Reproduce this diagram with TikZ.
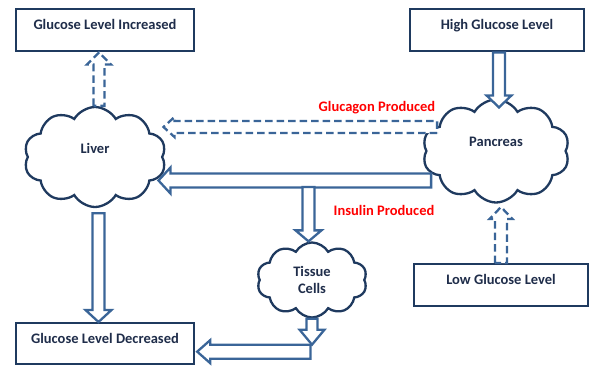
\documentclass[tikz,border=0pt]{standalone}
\usepackage{fontspec}
\setmainfont{Carlito}
\usepackage{tikz}
\usetikzlibrary{calc}
\usetikzlibrary{shapes.symbols}

\definecolor{navy}{HTML}{1F3A5F}
\definecolor{steel}{HTML}{3A6598}
\definecolor{ink}{HTML}{1F2D4A}

\tikzset{
  hollow/.style n args={3}{draw=steel, fill=white, line width=2.3pt, line join=miter,
    to path={
      ($(\tikztotarget)!#3!(\tikztostart)$) coordinate (hb)
      ($(\tikztostart)!#1!90:(\tikztotarget)$)
      -- ($(hb)!#1!90:(\tikztotarget)$)
      -- ($(hb)!#2!90:(\tikztotarget)$)
      -- (\tikztotarget)
      -- ($(hb)!#2!-90:(\tikztotarget)$)
      -- ($(hb)!#1!-90:(\tikztotarget)$)
      -- ($(\tikztostart)!#1!-90:(\tikztotarget)$)
      -- cycle}},
  dashhollow/.style n args={3}{hollow={#1}{#2}{#3}, dash pattern=on 7.5pt off 4pt}
}

\begin{document}
\begin{tikzpicture}[x=1pt,y=-1pt,
  box/.style={draw=navy, line width=2.4pt, fill=white, inner sep=0pt,
    minimum width=178pt, text height=20pt, text depth=22pt, text=ink,
    font=\bfseries\fontsize{14.5}{17}\selectfont},
  puff/.style={cloud, cloud puffs=10, cloud puff arc=120, draw=navy,
    line width=2.3pt, fill=white, inner sep=0pt, text=ink,
    font=\bfseries\fontsize{14.5}{17}\selectfont},
  redlabel/.style={text=red, inner sep=0pt, font=\bfseries\fontsize{14.5}{17}\selectfont}]
\useasboundingbox (0,0) rectangle (592,367);

% boxes
\node[box, anchor=north] (inc) at (105,8) {Glucose Level Increased};
\node[box, anchor=north, minimum width=174pt] (high) at (497,8) {High Glucose Level};
\node[box, anchor=north, minimum width=174pt] (low) at (501,263) {Low Glucose Level};
\node[box, anchor=north, text depth=21pt] (dec) at (105,322) {Glucose Level Decreased};

% clouds
\node[puff, minimum width=142pt, minimum height=100pt, text depth=18pt] (liv) at (95,157) {Liver};
\node[puff, minimum width=147pt, minimum height=103pt, text depth=18pt] (pan) at (496,151) {Pancreas};
\node[puff, minimum width=110pt, minimum height=75pt, align=center] (tis) at (312,280) {Tissue\\Cells};

% labels
\node[redlabel] (glab) at (377,108) {Glucagon Produced};
\node[redlabel] (ilab) at (384,210) {Insulin Produced};

\coordinate (gl) at ([xshift=12pt,yshift=24pt]pan.west);
\coordinate (il) at ([xshift=6pt,yshift=-29.5pt]pan.west);
\coordinate (split) at ([xshift=-3.5pt,yshift=-6.5pt]tis.north |- il);
\coordinate (dr) at ([xshift=-1.5pt,yshift=-33pt]tis.south);
\coordinate (dtop) at ([yshift=7pt]dr);

% glucagon path
\draw[dashhollow={5.5pt}{12pt}{12pt}] ([xshift=4pt]liv.north) to ([xshift=4pt]liv.north |- inc.south);
\draw[dashhollow={6pt}{10pt}{11pt}] (gl) to (liv.east |- gl);
\draw[dashhollow={6pt}{11.5pt}{12pt}] (low.north) to ([yshift=56pt]low.north);

% insulin path
\draw[hollow={6pt}{12.5pt}{12pt}] ([xshift=2pt]high.south) to ([xshift=2pt,yshift=-55pt]high.south);
\draw[hollow={7pt}{13pt}{12pt}] (il) to ([xshift=-5pt]liv.east |- il);
\draw[hollow={6pt}{13pt}{11pt}] (split) to (split |- tis.north);
\draw[hollow={6pt}{13pt}{12pt}] ([xshift=3.5pt,yshift=-5pt]liv.south) to ([xshift=3.5pt]liv.south |- dec.north);
\draw[hollow={5.5pt}{12.5pt}{15pt}] (tis.south) to (tis.south |- dtop);
\draw[hollow={7pt}{11.5pt}{13pt}] (dr) to ([xshift=2pt]dec.east |- dr);
\end{tikzpicture}
\end{document}
